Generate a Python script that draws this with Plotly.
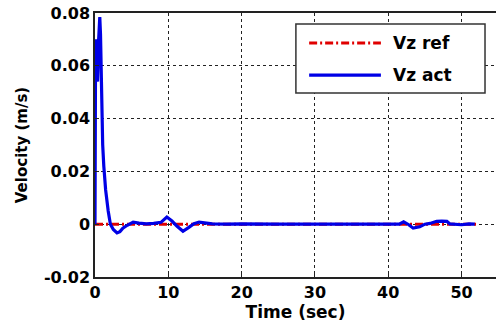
import plotly.graph_objects as go

t_act = [0, 0.08, 0.15, 0.25, 0.35, 0.5, 0.65, 0.75, 0.85, 0.95, 1.05, 1.2, 1.45, 1.8, 2.1, 2.5, 3.0, 3.4, 3.8, 4.4, 5.2, 6.0, 7.0, 8.0, 9.0, 9.8, 10.5, 11.2, 12.0, 12.8, 13.5, 14.2, 15.0, 16.0, 18, 20, 25, 30, 35, 40, 41.5, 42.1, 42.8, 43.4, 44.3, 45.0, 45.7, 46.6, 47.3, 48.0, 48.4, 49.0, 50, 51, 51.8]
v_act = [0, 0.070, 0.068, 0.060, 0.054, 0.070, 0.0785, 0.072, 0.052, 0.040, 0.030, 0.022, 0.013, 0.005, 0.0, -0.002, -0.0033, -0.0028, -0.0015, -0.0004, 0.0008, 0.0004, 0.0001, 0.0003, 0.0007, 0.0027, 0.0012, -0.0008, -0.0027, -0.0012, 0.0002, 0.0008, 0.0005, 0.0001, 0.0, 0.0001, 0.0, 0.0001, 0.0, 0.0, 0.0, 0.0009, -0.0002, -0.0015, -0.001, 0.0, 0.0003, 0.0011, 0.0012, 0.0011, 0.0001, 0.0, -0.0002, 0.0001, 0.0]
t_ref = [0, 52]
v_ref = [0, 0]

x_ticks = [0, 10, 20, 30, 40, 50]
y_ticks = [-0.02, 0, 0.02, 0.04, 0.06, 0.08]
y_labels = ["-0.02", "0", "0.02", "0.04", "0.06", "0.08"]
legend_names = ["Vz ref", "Vz act"]

FAM = "DejaVu Sans, Arial, sans-serif"
font = dict(family=FAM, size=16, color="black", weight="bold")
ref_line = dict(color="#e00000", width=3, dash="8px,3px,2px,3px")
act_line = dict(color="#0000e6", width=3.2)

fig = go.Figure()
fig.add_trace(go.Scatter(x=t_ref, y=v_ref, mode="lines", name=legend_names[0], line=ref_line))
fig.add_trace(go.Scatter(x=t_act, y=v_act, mode="lines", name=legend_names[1], line=act_line))

# manual legend box (paper coords of plot area)
shapes = [
    dict(type="rect", xref="paper", yref="paper", x0=0.501, x1=0.9726, y0=0.697, y1=0.958,
         line=dict(color="#333", width=1.5), fillcolor="white", layer="above"),
    dict(type="line", xref="paper", yref="paper", x0=0.534, x1=0.713, y0=0.886, y1=0.886,
         line=ref_line, layer="above"),
    dict(type="line", xref="paper", yref="paper", x0=0.534, x1=0.713, y0=0.765, y1=0.765,
         line=act_line, layer="above"),
]
annotations = [
    dict(xref="paper", yref="paper", x=0.738, y=0.886, text=legend_names[0], showarrow=False,
         xanchor="left", yanchor="middle", font=dict(family=FAM, size=17, color="black", weight="bold")),
    dict(xref="paper", yref="paper", x=0.738, y=0.765, text=legend_names[1], showarrow=False,
         xanchor="left", yanchor="middle", font=dict(family=FAM, size=17, color="black", weight="bold")),
]

fig.update_layout(
    width=496, height=329,
    margin=dict(l=95, r=0, t=13, b=52),
    plot_bgcolor="white", paper_bgcolor="white",
    font=font,
    showlegend=False,
    shapes=shapes,
    annotations=annotations,
    xaxis=dict(range=[0, 54.7], tickvals=x_ticks, showgrid=True,
               gridcolor="#222", griddash="3px,3px", gridwidth=1,
               showline=True, linecolor="#222", linewidth=1.5, mirror=True,
               ticks="inside", ticklen=4, tickcolor="#222", zeroline=False,
               title=dict(text="Time (sec)", font=dict(size=17), standoff=3),
               tickfont=dict(size=16)),
    yaxis=dict(range=[-0.02, 0.08], tickvals=y_ticks, ticktext=y_labels, showgrid=True,
               gridcolor="#222", griddash="3px,3px", gridwidth=1,
               showline=True, linecolor="#222", linewidth=1.5, mirror=False,
               ticks="inside", ticklen=4, tickcolor="#222", zeroline=False,
               title=dict(text="Velocity (m/s)", font=dict(size=15), standoff=13),
               tickfont=dict(size=16)),
)

fig.write_html("out.html")
